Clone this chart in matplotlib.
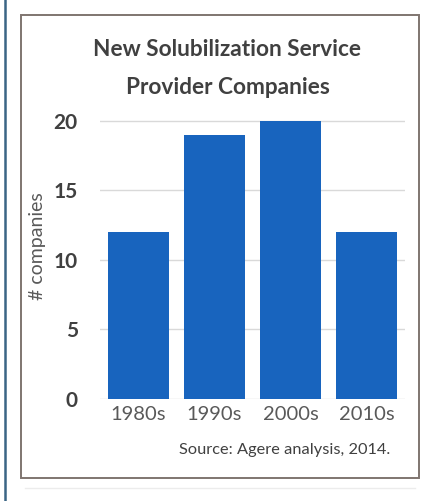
import matplotlib.pyplot as plt
from matplotlib.patches import Rectangle
from matplotlib.lines import Line2D

# Dados
decades = ['1980s', '1990s', '2000s', '2010s']
companies = [12, 19, 20, 12]
yticks = [0, 5, 10, 15, 20]

plt.rcParams['font.family'] = ['Lato', 'DejaVu Sans']

fig = plt.figure(figsize=(4.30, 5.01), dpi=100)
fig.patch.set_facecolor('white')

ax = fig.add_axes([0.2326, 0.2036, 0.7093, 0.5633])
ax.bar(range(len(decades)), companies, width=0.8, color='#1864be', zorder=2)
ax.set_xlim(-0.5, 3.5)
ax.set_ylim(0, 20.3)
ax.set_yticks(yticks)
ax.set_xticks(range(len(decades)))
ax.set_xticklabels(decades, fontsize=14.5, color='#595959')
for lab in ax.get_yticklabels():
    lab.set_fontsize(15)
    lab.set_fontweight('bold')
    lab.set_color('#404040')
ax.tick_params(length=0)
ax.tick_params(axis='y', pad=16)
ax.tick_params(axis='x', pad=5)
ax.grid(axis='y', color='#d9d9d9', linewidth=1, zorder=0)
for s in ax.spines.values():
    s.set_visible(False)

ax.set_ylabel('# companies', fontsize=14, color='#595959', va='center')
ax.yaxis.set_label_coords(-0.2066, 0.542)

# Título e fonte
fig.text(0.529, 1 - 50 / 501, 'New Solubilization Service', ha='center', va='center',
         fontsize=16.3, fontweight='bold', color='#404040')
fig.text(0.529, 1 - 87 / 501, 'Provider Companies', ha='center', va='center',
         fontsize=16.3, fontweight='bold', color='#404040')
fig.text(390 / 430, 1 - 450 / 501, 'Source: Agere analysis, 2014.', ha='right', va='center',
         fontsize=11.8, color='#404040')

# Moldura
fig.patches.append(Rectangle((21 / 430, 1 - 478 / 501), 398 / 430, 463 / 501,
                             transform=fig.transFigure, fill=False,
                             edgecolor='#7f7570', linewidth=1.4))
fig.lines.append(Line2D([5 / 430, 5 / 430], [0, 1], transform=fig.transFigure,
                        color='#3b6585', linewidth=1.8))
fig.lines.append(Line2D([25 / 430, 415 / 430], [1 - 488 / 501, 1 - 488 / 501],
                        transform=fig.transFigure, color='#ececec', linewidth=1))

plt.savefig('out.png', dpi=100)
